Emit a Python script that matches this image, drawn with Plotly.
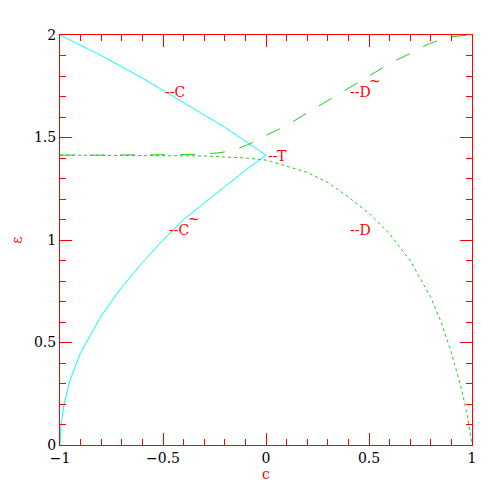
import plotly.graph_objects as go

# branch C (upper cyan)
c_C = [-1.0, -0.8, -0.6, -0.4, -0.2, 0.0]
e_C = [2.0, 1.90, 1.79, 1.67, 1.55, 1.414]
# branch C~ (lower cyan)
c_Ct = [-1.0, -0.995, -0.98, -0.95, -0.9, -0.8, -0.7, -0.6, -0.5, -0.4, -0.3, -0.2, -0.1, 0.0]
e_Ct = [0.0, 0.1, 0.2, 0.32, 0.45, 0.63, 0.77, 0.89, 1.0, 1.1, 1.18, 1.26, 1.34, 1.414]
# branch D~ (dashed green)
c_Dt = [-1.0, -0.5, -0.3, -0.2, -0.1, 0.0, 0.1, 0.2, 0.3, 0.4, 0.5, 0.6, 0.7, 0.8, 0.9, 1.0]
e_Dt = [1.414, 1.416, 1.42, 1.43, 1.46, 1.51, 1.56, 1.62, 1.68, 1.74, 1.80, 1.86, 1.91, 1.96, 1.99, 2.0]
# branch D (dotted green)
c_D = [-1.0, -0.5, -0.3, -0.2, -0.1, 0.0, 0.1, 0.2, 0.3, 0.4, 0.5, 0.6, 0.7, 0.8, 0.85, 0.9, 0.95, 0.98, 1.0]
e_D = [1.414, 1.412, 1.41, 1.405, 1.40, 1.39, 1.36, 1.33, 1.28, 1.21, 1.13, 1.03, 0.90, 0.72, 0.60, 0.45, 0.27, 0.13, 0.0]

labels = ["--C", "--T", "--D", "--C", "--D"]
lab_x = [-0.5, 0.0, 0.4, -0.48, 0.4]
lab_y = [1.72, 1.41, 1.72, 1.05, 1.05]
tilde = [False, False, True, True, False]

fig = go.Figure()
fig.add_trace(go.Scatter(x=c_C, y=e_C, mode="lines", line=dict(color="cyan", width=1)))
fig.add_trace(go.Scatter(x=c_Ct, y=e_Ct, mode="lines", line=dict(color="cyan", width=1)))
fig.add_trace(go.Scatter(x=c_Dt, y=e_Dt, mode="lines", line=dict(color="#22cc22", width=1, dash="longdash", shape="spline")))
fig.add_trace(go.Scatter(x=c_D, y=e_D, mode="lines", line=dict(color="#22cc22", width=1, dash="dot")))
lf = dict(color="red", size=14, family="DejaVu Serif")
for t, x, y, tl in zip(labels, lab_x, lab_y, tilde):
    fig.add_annotation(x=x, y=y, text=t, showarrow=False, xanchor="left", font=lf)
    if tl:
        fig.add_annotation(x=x, y=y, text="~", showarrow=False, xanchor="left", xshift=19, yshift=11, font=lf)

ax = dict(showgrid=False, zeroline=False, showline=True, linecolor="red", mirror="allticks", automargin=False,
          ticks="inside", tickcolor="red", ticklen=12, tickfont=dict(color="black", size=14, family="DejaVu Serif"),
          minor=dict(ticks="inside", ticklen=6, tickcolor="red"))
fig.update_xaxes(**ax, range=[-1, 1], minor_dtick=0.1, tickvals=[-1, -0.5, 0, 0.5, 1],
                 ticktext=["\u22121", "\u22120.5", "0", "0.5", "1"],
                 title=dict(text="c", font=lf, standoff=2))
fig.update_yaxes(**ax, range=[0, 2], dtick=0.5, minor_dtick=0.1,
                 title=dict(text="\u03b5", font=lf, standoff=8))
fig.update_layout(width=491, height=491, showlegend=False, plot_bgcolor="white", paper_bgcolor="white",
                  margin=dict(l=52, r=27, t=27, b=54))
fig.write_html("out.html")
